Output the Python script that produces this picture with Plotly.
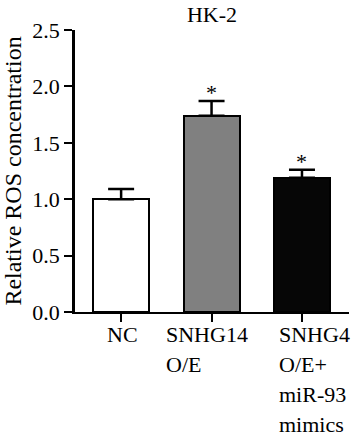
import plotly.graph_objects as go

categories = ["NC", "SNHG14 O/E", "SNHG4 O/E+ miR-93 mimics"]
label_lines = [["NC"], ["SNHG14", "O/E"], ["SNHG4", "O/E+", "miR-93", "mimics"]]
values = [1.0, 1.74, 1.19]
errors = [0.09, 0.13, 0.07]
significance = ["", "*", "*"]
bar_colors = ["#ffffff", "#808080", "#060606"]
y_ticks = [0.0, 0.5, 1.0, 1.5, 2.0, 2.5]
title_text = "HK-2"
y_title = "Relative ROS concentration"

FONT = "Liberation Serif"
x_pos = list(range(len(categories)))

fig = go.Figure()
fig.add_trace(go.Bar(
    x=x_pos, y=values, width=0.62,
    marker=dict(color=bar_colors, line=dict(color="black", width=2)),
    error_y=dict(type="data", array=errors, arrayminus=[0] * len(errors),
                 symmetric=False, color="black", thickness=2.5, width=13),
    showlegend=False, hoverinfo="skip",
))

annotations = []
for i, (v, e, s) in enumerate(zip(values, errors, significance)):
    if s:
        annotations.append(dict(x=i, y=v + e, xref="x", yref="y", text=s,
                                showarrow=False, yanchor="bottom", yshift=-6,
                                font=dict(family=FONT, size=22, color="black")))

label_xshift = [-16, -48, -25]
for i, lines in enumerate(label_lines):
    for j, line in enumerate(lines):
        annotations.append(dict(x=i, y=0, xref="x", yref="paper", text=line,
                                showarrow=False, xanchor="left", yanchor="top",
                                xshift=label_xshift[i], yshift=-8 - 30 * j,
                                font=dict(family=FONT, size=22, color="black")))

fig.update_layout(
    width=361, height=441,
    margin=dict(l=75, r=12, t=30, b=129, autoexpand=False),
    paper_bgcolor="white", plot_bgcolor="white",
    font=dict(family=FONT, size=22, color="black"),
    title=dict(text=title_text, x=0.5, xref="paper", xanchor="center",
               y=1 - 14 / 441, yref="container", yanchor="middle",
               font=dict(family=FONT, size=22, color="black")),
    annotations=annotations,
    bargap=0,
)
fig.update_xaxes(range=[-0.51, 2.52], tickvals=x_pos, ticktext=["" for _ in categories],
                 showticklabels=False, ticks="outside", ticklen=8, tickwidth=2,
                 tickcolor="black", showline=True, linecolor="black", linewidth=2,
                 showgrid=False, zeroline=False, fixedrange=True, automargin=False)
fig.update_yaxes(range=[0, 2.5], tickvals=y_ticks, ticktext=[f"{t:.1f}" for t in y_ticks],
                 ticks="outside", ticklen=8, tickwidth=2, tickcolor="black",
                 showline=True, linecolor="black", linewidth=2.5,
                 showgrid=False, zeroline=False, automargin=False, fixedrange=True,
                 tickfont=dict(family=FONT, size=22, color="black"),
                 title=dict(text=y_title, standoff=6,
                            font=dict(family=FONT, size=24, color="black")))

fig.write_html("out.html", config={"displayModeBar": False},
               post_script="document.body.style.margin='0';")
